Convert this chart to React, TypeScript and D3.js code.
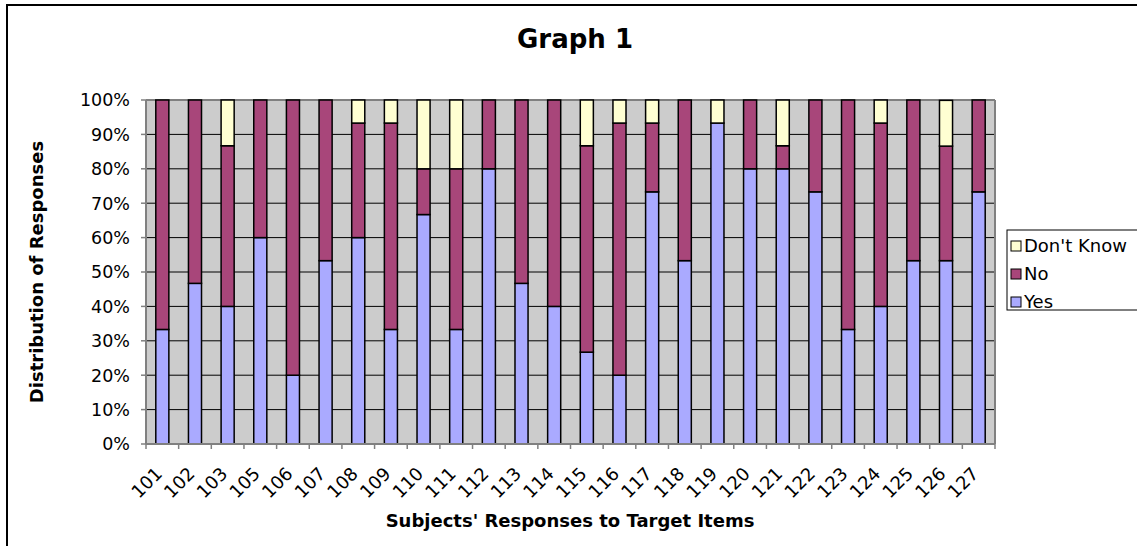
import React from "react";
import * as d3 from "d3";

const categories = ["101","102","103","105","106","107","108","109","110","111","112","113","114","115","116","117","118","119","120","121","122","123","124","125","126","127"];
const yesValues = [33.3,46.7,40,60,20,53.3,60,33.3,66.7,33.3,80,46.7,40,26.7,20,73.3,53.3,93.3,80,80,73.3,33.3,40,53.3,53.3,73.3];
const noValues = [66.7,53.3,46.7,40,80,46.7,33.3,60,13.3,46.7,20,53.3,60,60,73.3,20,46.7,0,20,6.7,26.7,66.7,53.3,46.7,33.3,26.7];
const dkValues = [0,0,13.3,0,0,0,6.7,6.7,20,20,0,0,0,13.3,6.7,6.7,0,6.7,0,13.3,0,0,6.7,0,13.3,0];
const yTicks = [0,10,20,30,40,50,60,70,80,90,100];
const seriesNames = ["Yes","No","Don't Know"];
const seriesColors = ["#AAAAFF","#A8467A","#FFFFD2"];

const W = 1137, H = 546;
const PL = 146, PR = 995, PT = 100, PB = 444;
const FONT = "'DejaVu Sans', Verdana, sans-serif";

export default function App() {
  const x = d3.scaleBand<string>().domain(categories).range([PL, PR]).paddingInner(0.6).paddingOuter(0.3);
  const y = d3.scaleLinear().domain([0, 100]).range([PB, PT]);
  const step = x.step();
  const series = [yesValues, noValues, dkValues];

  const bars: JSX.Element[] = [];
  categories.forEach((c, i) => {
    let acc = 0;
    series.forEach((vals, s) => {
      const v = vals[i];
      if (v <= 0) return;
      const y0 = y(acc), y1 = y(Math.min(100, acc + v));
      acc += v;
      bars.push(
        <rect key={c + "-" + s} x={x(c)} y={y1} width={x.bandwidth()} height={y0 - y1}
          fill={seriesColors[s]} stroke="#000" strokeWidth={1.5} />
      );
    });
  });

  const legendItems = [2, 1, 0];

  return (
    <svg width={W} height={H} style={{ position: "absolute", left: 0, top: 0, background: "#fff" }} fontFamily={FONT}>
      <rect x={7} y={5} width={1140} height={560} fill="#fff" stroke="#000" strokeWidth={2} />
      <text x={575} y={48} textAnchor="middle" fontSize={26} fontWeight="bold">Graph 1</text>
      <rect x={PL} y={PT} width={PR - PL} height={PB - PT} fill="#CCCCCC" />
      {yTicks.map(t => (
        <g key={t}>
          {t > 0 && t < 100 && <line x1={PL} x2={PR} y1={y(t)} y2={y(t)} stroke="#000" strokeWidth={1} />}
          <line x1={PL - 5} x2={PL} y1={y(t)} y2={y(t)} stroke="#808080" strokeWidth={1.5} />
          <text x={130} y={y(t)} dy="0.36em" textAnchor="end" fontSize={17.5}>{t}%</text>
        </g>
      ))}
      <line x1={PL} x2={PR} y1={PT} y2={PT} stroke="#808080" strokeWidth={2} />
      <line x1={PR} x2={PR} y1={PT} y2={PB} stroke="#808080" strokeWidth={2} />
      <line x1={PL} x2={PL} y1={PT} y2={PB} stroke="#808080" strokeWidth={2} />
      {bars}
      <line x1={PL} x2={PR} y1={PB} y2={PB} stroke="#808080" strokeWidth={2} />
      {categories.map((c, i) => (
        <line key={"t" + c} x1={PL + i * step} x2={PL + i * step} y1={PB} y2={PB + 5} stroke="#808080" strokeWidth={1.5} />
      ))}
      <line x1={PR} x2={PR} y1={PB} y2={PB + 5} stroke="#808080" strokeWidth={1.5} />
      {categories.map(c => {
        const cx = (x(c) as number) + x.bandwidth() / 2;
        return (
          <text key={"l" + c} transform={`translate(${cx - 8},${466}) rotate(-45)`} textAnchor="end" dy="0.7em" fontSize={18}>{c}</text>
        );
      })}
      <text x={570} y={527} textAnchor="middle" fontSize={18} fontWeight="bold">Subjects' Responses to Target Items</text>
      <text transform={`translate(43,${(PT + PB) / 2}) rotate(-90)`} textAnchor="middle" fontSize={18} fontWeight="bold">Distribution of Responses</text>
      <rect x={1007} y={230} width={140} height={80} fill="#fff" stroke="#000" strokeWidth={1} />
      {legendItems.map((s, k) => {
        const cy = 246 + k * 28;
        return (
          <g key={"lg" + s}>
            <rect x={1011} y={cy - 5} width={10} height={10} fill={seriesColors[s]} stroke="#000" strokeWidth={1} />
            <text x={1024} y={cy} dy="0.36em" fontSize={18}>{seriesNames[s]}</text>
          </g>
        );
      })}
    </svg>
  );
}
